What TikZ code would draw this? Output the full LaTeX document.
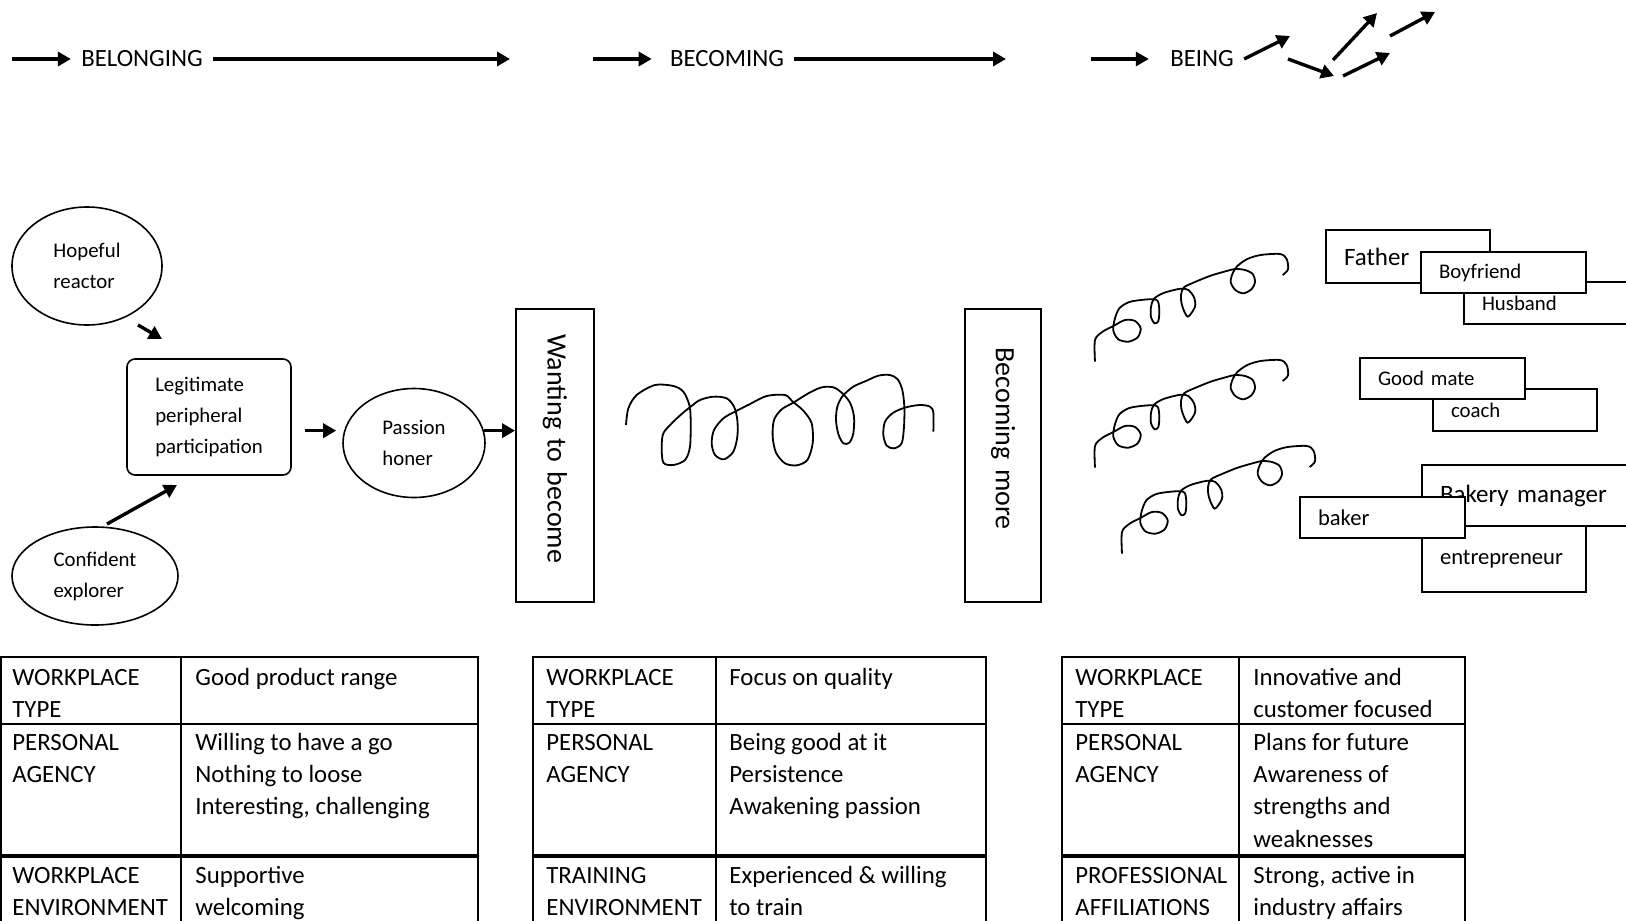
\documentclass[tikz,border=0pt]{standalone}
\usepackage{fontspec}
\setmainfont{Carlito}
\usetikzlibrary{arrows.meta,shapes.geometric}

\newcommand{\tabfont}{\fontsize{12.4}{16.2}\selectfont}
\newcommand{\smallfont}{\fontsize{10.4}{15.5}\selectfont}
\newcommand{\bigfont}{\fontsize{14}{17}\selectfont}

\tikzset{
  arr/.style={line width=1.7pt, -{Triangle[length=6.5pt,width=7pt]}},
  bubble/.style={draw, ellipse, line width=0.8pt, inner sep=0pt, align=left, font=\smallfont},
  vbox/.style={draw, line width=0.9pt, rotate=-90, font=\bigfont, minimum width=146.5pt},
  tag/.style={draw, fill=white, line width=0.9pt, align=left, inner xsep=9pt, inner ysep=0pt},
  cell/.style={anchor=north west, inner sep=0pt, align=left, font=\tabfont},
  coil/.pic={
    \draw[line width=0.9pt] plot[smooth, tension=0.5] coordinates {
      (45,365) (45,300) (68,275) (100,258) (135,240) (165,243) (182,265) (173,292)
      (145,305) (115,298) (100,272) (104,238) (118,205) (148,186) (192,179) (222,178)
      (234,184) (238,212) (235,243) (224,250) (213,232) (213,200) (222,176) (248,160)
      (282,150) (305,146) (325,150) (342,172) (345,200) (323,230) (306,196) (303,165)
      (312,142) (345,126) (392,107) (440,93) (465,87) (495,90) (518,102) (525,126)
      (514,148) (490,160) (466,150) (452,126) (458,100) (472,78) (502,57) (542,45)
      (600,42) (620,57) (624,88) (608,105)};
  }
}

\begin{document}
\begin{tikzpicture}[x=0.5pt, y=-0.5pt]
  \useasboundingbox (0,0) rectangle (1626,920);

  %% stages along the top
  \node[font=\tabfont, inner xsep=5pt] (bel) at (142,59) {BELONGING};
  \node[font=\tabfont, inner xsep=5pt] (becm) at (727,59) {BECOMING};
  \node[font=\tabfont, inner xsep=5pt] (bng) at (1202,59) {BEING};
  \coordinate (a1) at (12,59);
  \coordinate (a2) at (510,59);
  \coordinate (a3) at (593,59);
  \coordinate (a4) at (1006,59);
  \coordinate (a5) at (1091,59);
  \coordinate (a6) at (1290,36);
  \draw[arr] (a1) -- (bel.west);
  \draw[arr] (bel.east) -- (a2);
  \draw[arr, shorten >=4pt] (a3) -- (becm.west);
  \draw[arr] (becm.east) -- (a4);
  \draw[arr, shorten >=5.5pt] (a5) -- (bng.west);
  \draw[arr] (bng.east) -- (a6);
  \draw[arr] (1288,59) -- (1334,76);
  \draw[arr] (1333,60) -- (1377,13);
  \draw[arr] (1343,76) -- (1390,53);
  \draw[arr] (1390,36) -- (1435,12);

  %% belonging
  \node[bubble, minimum width=75pt, minimum height=59pt] (hope) at (87,266) {Hopeful\\reactor};
  \node[bubble, minimum width=83pt, minimum height=49pt] (conf) at (95,576) {Confident\\explorer};
  \node[draw, line width=0.8pt, rounded corners=4pt, minimum width=82pt, minimum height=58pt,
        align=left, font=\smallfont] (lpp) at (209,417) {Legitimate\\peripheral\\participation};
  \node[bubble, minimum width=71pt, minimum height=54.5pt] (pass) at (414,443) {Passion\\honer};
  \node[vbox, minimum height=39pt, text width=121.5pt, inner xsep=12.5pt, align=left] (want) at (555,455.5) {Wanting to become};
  \coordinate (h1) at (138,325);
  \coordinate (h2) at (162,339);
  \coordinate (c1) at (107,524);
  \coordinate (c2) at (177,485);
  \draw[arr] (h1) -- (h2);
  \draw[arr] (c1) -- (c2);
  \draw[arr, shorten <=6.5pt, shorten >=3pt] (lpp.east |- pass.10) -- (pass.west |- pass.10);
  \draw[arr] (pass.10) -- (pass.10 -| want.south);

  %% becoming
  \begin{scope}[shift={(600,280)}, scale=1/3]
    \draw[line width=0.9pt] plot[smooth, tension=0.5] coordinates {
      (78,435) (85,385) (110,345) (165,315) (220,318) (250,335) (268,375) (272,420)
      (270,500) (255,540) (220,555) (190,548) (185,500) (190,460) (215,430) (245,402)
      (272,380) (300,360) (340,350) (380,355) (402,380) (412,420) (412,470) (400,515)
      (372,538) (345,525) (335,490) (342,450) (370,415) (405,395) (450,372) (500,348)
      (555,345) (578,365) (610,392) (635,430) (638,490) (622,540) (590,556) (555,550)
      (528,518) (518,470) (522,420) (545,388) (580,368) (625,340) (665,322) (700,322)
      (725,338) (750,368) (762,410) (760,460) (748,488) (730,490) (715,462) (708,420)
      (712,380) (728,348) (760,320) (800,302) (835,287) (870,285) (893,298) (907,330)
      (913,380) (912,440) (905,490) (882,505) (860,497) (850,465) (855,425) (880,398)
      (918,382) (960,375) (990,380) (1000,398) (1000,455)};
  \end{scope}
  \node[vbox, minimum height=38pt, text width=108pt, inner xsep=19pt, align=left] (bmore) at (1003,455.5) {Becoming more};

  %% being
  \pic[scale=1/3] at (1080,240) {coil};
  \pic[scale=1/3] at (1080,346) {coil};
  \pic[scale=1/3] at (1107,432) {coil};

  \node[tag, text width=64pt, minimum height=26.5pt, font=\fontsize{12.5}{15}\selectfont] (fath) at (1408,256.5) {Father};
  \node[tag, text width=70pt, minimum height=21pt, font=\smallfont] (husb) at (1552,303) {Husband};
  \node[tag, text width=64.5pt, minimum height=20.5pt, font=\smallfont] (boyf) at (1503.5,272.5) {Boyfriend};
  \node[tag, text width=64pt, minimum height=21pt, font=\smallfont] (coach) at (1515,410) {coach};
  \node[tag, text width=64.5pt, minimum height=20.5pt, font=\smallfont] (mate) at (1442.5,378.5) {Good mate};
  \node[tag, text width=91pt, minimum height=30.5pt, font=\fontsize{12.5}{15}\selectfont] (bman) at (1531,495.5) {Bakery manager};
  \node[tag, text width=64pt, minimum height=33pt, font=\fontsize{11.3}{14}\selectfont] (entr) at (1504,559) {entrepreneur};
  \node[tag, text width=64.5pt, minimum height=20.5pt, font=\fontsize{11.3}{14}\selectfont] (bakr) at (1382.5,517.5) {baker};

  %% tables
  \foreach \l/\m/\r in {1/181/478, 533/716/986, 1062/1239/1465} {
    \draw[line width=1pt] (\l,930) -- (\l,657) -- (\r,657) -- (\r,930);
    \draw[line width=1pt] (\m,657) -- (\m,930) (\l,724) -- (\r,724);
    \draw[line width=1.6pt] (\l,856) -- (\r,856);
  }

  \node[cell] (t1a) at (12,662) {\strut WORKPLACE\\TYPE};
  \node[cell] (t1b) at (195,662) {\strut Good product range};
  \node[cell] (t1c) at (12,727) {\strut PERSONAL\\AGENCY};
  \node[cell] (t1d) at (195,727) {\strut Willing to have a go\\Nothing to loose\\Interesting, challenging};
  \node[cell] (t1e) at (12,860) {\strut WORKPLACE\\ENVIRONMENT};
  \node[cell] (t1f) at (195,860) {\strut Supportive\\welcoming};

  \node[cell] (t2a) at (546,662) {\strut WORKPLACE\\TYPE};
  \node[cell] (t2b) at (729,662) {\strut Focus on quality};
  \node[cell] (t2c) at (546,727) {\strut PERSONAL\\AGENCY};
  \node[cell] (t2d) at (729,727) {\strut Being good at it\\Persistence\\Awakening passion};
  \node[cell] (t2e) at (546,860) {\strut TRAINING\\ENVIRONMENT};
  \node[cell] (t2f) at (729,860) {\strut Experienced \& willing\\to train};

  \node[cell] (t3a) at (1075,662) {\strut WORKPLACE\\TYPE};
  \node[cell] (t3b) at (1253,662) {\strut Innovative and\\customer focused};
  \node[cell] (t3c) at (1075,727) {\strut PERSONAL\\AGENCY};
  \node[cell] (t3d) at (1253,727) {\strut Plans for future\\Awareness of\\strengths and\\weaknesses};
  \node[cell] (t3e) at (1075,860) {\strut PROFESSIONAL\\AFFILIATIONS};
  \node[cell] (t3f) at (1253,860) {\strut Strong, active in\\industry affairs};
\end{tikzpicture}
\end{document}
